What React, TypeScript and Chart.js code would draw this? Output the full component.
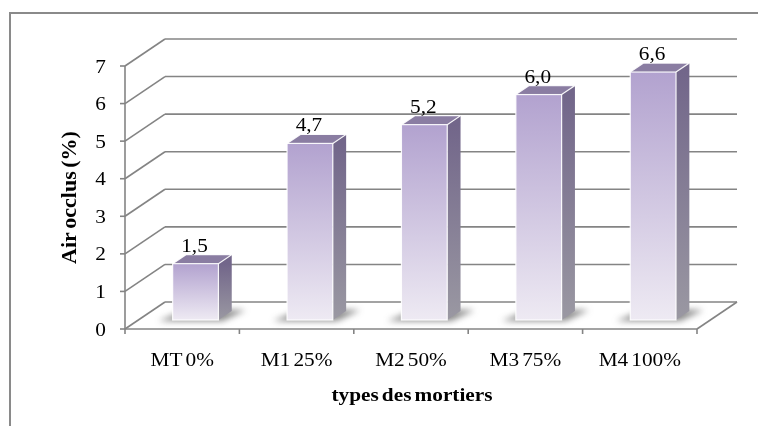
import React, { useEffect, useRef } from "react";
import { Chart, registerables } from "chart.js";

Chart.register(...registerables);

const categories = ["MT 0%", "M1 25%", "M2 50%", "M3 75%", "M4 100%"];
const values = [1.5, 4.7, 5.2, 6.0, 6.6];
const valueLabels = ["1,5", "4,7", "5,2", "6,0", "6,6"];
const yTicks = [0, 1, 2, 3, 4, 5, 6, 7];
const yTitle = "Air occlus (%)";
const xTitle = "types des mortiers";

const DX = 40;
const DY = -27;
const BAR_FRONT = 1 / 3;
const BAR_BACK = 2 / 3;
const SX = 1.12;
const FONT = '"Liberation Serif", "Times New Roman", serif';
const GRID = "#848484";

function sText(
  ctx: CanvasRenderingContext2D,
  text: string,
  x: number,
  y: number,
  align: CanvasTextAlign,
  font: string,
  rot = 0,
  sx = SX
) {
  ctx.save();
  ctx.translate(x, y);
  if (rot) ctx.rotate(rot);
  ctx.scale(sx, 1);
  ctx.font = font;
  (ctx as any).wordSpacing = "-2px";
  ctx.fillStyle = "#000";
  ctx.textAlign = align;
  ctx.textBaseline = "alphabetic";
  ctx.fillText(text, 0, 0);
  ctx.restore();
}

function line(ctx: CanvasRenderingContext2D, x1: number, y1: number, x2: number, y2: number) {
  ctx.beginPath();
  ctx.moveTo(x1, y1);
  ctx.lineTo(x2, y2);
  ctx.stroke();
}

const bar3d = {
  id: "bar3d",
  beforeDraw(chart: any) {
    const ctx = chart.ctx as CanvasRenderingContext2D;
    ctx.save();
    ctx.fillStyle = "#fff";
    ctx.fillRect(0, 0, chart.width, chart.height);
    ctx.fillStyle = "#8a8a8a";
    ctx.fillRect(9, 12, 2, chart.height - 12);
    ctx.fillRect(9, 12, 749, 2);
    ctx.restore();
  },
  beforeDatasetsDraw(chart: any) {
    const ctx = chart.ctx as CanvasRenderingContext2D;
    const { left, right, top, bottom } = chart.chartArea;
    const ys = chart.scales.y;
    ctx.save();
    ctx.strokeStyle = GRID;
    ctx.lineWidth = 1.6;
    for (const v of yTicks) {
      const py = ys.getPixelForValue(v);
      line(ctx, left, py, left + DX, py + DY);
      line(ctx, left + DX, py + DY, right + DX, py + DY);
      line(ctx, left - 5, py, left, py);
    }
    line(ctx, right, bottom, right + DX, bottom + DY);
    line(ctx, left, bottom, right, bottom);
    line(ctx, left, top, left, bottom);
    const n = categories.length;
    for (let i = 0; i <= n; i++) {
      const bx = left + (i * (right - left)) / n;
      line(ctx, bx, bottom, bx, bottom + 5);
    }
    ctx.restore();

    const tickFont = `19px ${FONT}`;
    for (const v of yTicks) {
      const py = ys.getPixelForValue(v);
      sText(ctx, String(v), 106, py + 6.5, "right", tickFont);
    }
    const xs = chart.scales.x;
    categories.forEach((c, i) => {
      sText(ctx, c, xs.getPixelForValue(i), 366, "center", tickFont);
    });
    const boldFont = `bold 19px ${FONT}`;
    sText(ctx, xTitle, (left + right) / 2 + 1, 401, "center", boldFont);
    // y title, rotated
    ctx.save();
    ctx.translate(76, (top + bottom) / 2);
    ctx.rotate(-Math.PI / 2);
    ctx.font = `bold 22px ${FONT}`;
    (ctx as any).wordSpacing = "-2px";
    ctx.fillStyle = "#000";
    ctx.textAlign = "center";
    ctx.textBaseline = "alphabetic";
    ctx.fillText(yTitle, 0, 0);
    ctx.restore();
  },
  afterDatasetsDraw(chart: any) {
    const ctx = chart.ctx as CanvasRenderingContext2D;
    const meta = chart.getDatasetMeta(0);
    const fx = DX * BAR_FRONT;
    const fy = DY * BAR_FRONT;
    const ddx = DX * (BAR_BACK - BAR_FRONT);
    const ddy = DY * (BAR_BACK - BAR_FRONT);
    meta.data.forEach((el: any, i: number) => {
      const { x, y, base, width } = el.getProps(["x", "y", "base", "width"], true);
      const L = x - width / 2 + fx;
      const R = x + width / 2 + fx;
      const T = y + fy;
      const B = base + fy;

      // shadow on floor
      ctx.save();
      ctx.filter = "blur(3px)";
      ctx.fillStyle = "rgba(60,60,60,0.6)";
      ctx.beginPath();
      ctx.moveTo(L - 14, B + 1);
      ctx.lineTo(R + 4, B + 1);
      ctx.lineTo(R + ddx + 14, B + ddy - 1);
      ctx.lineTo(L + ddx, B + ddy - 1);
      ctx.closePath();
      ctx.fill();
      ctx.restore();

      ctx.save();
      // side face
      const sg = ctx.createLinearGradient(0, T, 0, B);
      sg.addColorStop(0, "#72668a");
      sg.addColorStop(1, "#9a98a2");
      ctx.fillStyle = sg;
      ctx.beginPath();
      ctx.moveTo(R, T);
      ctx.lineTo(R + ddx, T + ddy);
      ctx.lineTo(R + ddx, B + ddy);
      ctx.lineTo(R, B);
      ctx.closePath();
      ctx.fill();
      // top face
      ctx.fillStyle = "#8a7da2";
      ctx.beginPath();
      ctx.moveTo(L, T);
      ctx.lineTo(R, T);
      ctx.lineTo(R + ddx, T + ddy);
      ctx.lineTo(L + ddx, T + ddy);
      ctx.closePath();
      ctx.fill();
      // front face
      const fg = ctx.createLinearGradient(0, T, 0, B);
      fg.addColorStop(0, "#b2a2cf");
      fg.addColorStop(1, "#eeeaf3");
      ctx.fillStyle = fg;
      ctx.fillRect(L, T, R - L, B - T);
      // light edges
      ctx.strokeStyle = "rgba(255,255,255,0.9)";
      ctx.lineWidth = 1.2;
      ctx.strokeRect(L, T, R - L, B - T);
      ctx.beginPath();
      ctx.moveTo(R, T);
      ctx.lineTo(R + ddx, T + ddy);
      ctx.lineTo(L + ddx, T + ddy);
      ctx.lineTo(L, T);
      ctx.stroke();
      ctx.restore();

      sText(ctx, valueLabels[i], x + fx - 1, T + ddy - 3, "center", `19px ${FONT}`);
    });
  },
};

export default function App() {
  const ref = useRef<HTMLCanvasElement>(null);
  useEffect(() => {
    const chart = new Chart(ref.current!, {
      type: "bar",
      data: {
        labels: categories,
        datasets: [
          {
            data: values,
            backgroundColor: "rgba(0,0,0,0)",
            borderWidth: 0,
            barPercentage: 0.4,
            categoryPercentage: 1,
          },
        ],
      },
      options: {
        responsive: false,
        animation: false,
        layout: { padding: { left: 125, right: 72, top: 66, bottom: 97 } },
        scales: {
          x: { display: false, offset: true },
          y: { display: false, min: 0, max: 7 },
        },
        plugins: { legend: { display: false }, tooltip: { enabled: false } },
      },
      plugins: [bar3d],
    });
    return () => chart.destroy();
  }, []);
  return (
    <div style={{ position: "fixed", left: 0, top: 0, width: 769, height: 426, background: "#fff" }}>
      <canvas ref={ref} width={769} height={426} style={{ display: "block", width: 769, height: 426 }} />
    </div>
  );
}
